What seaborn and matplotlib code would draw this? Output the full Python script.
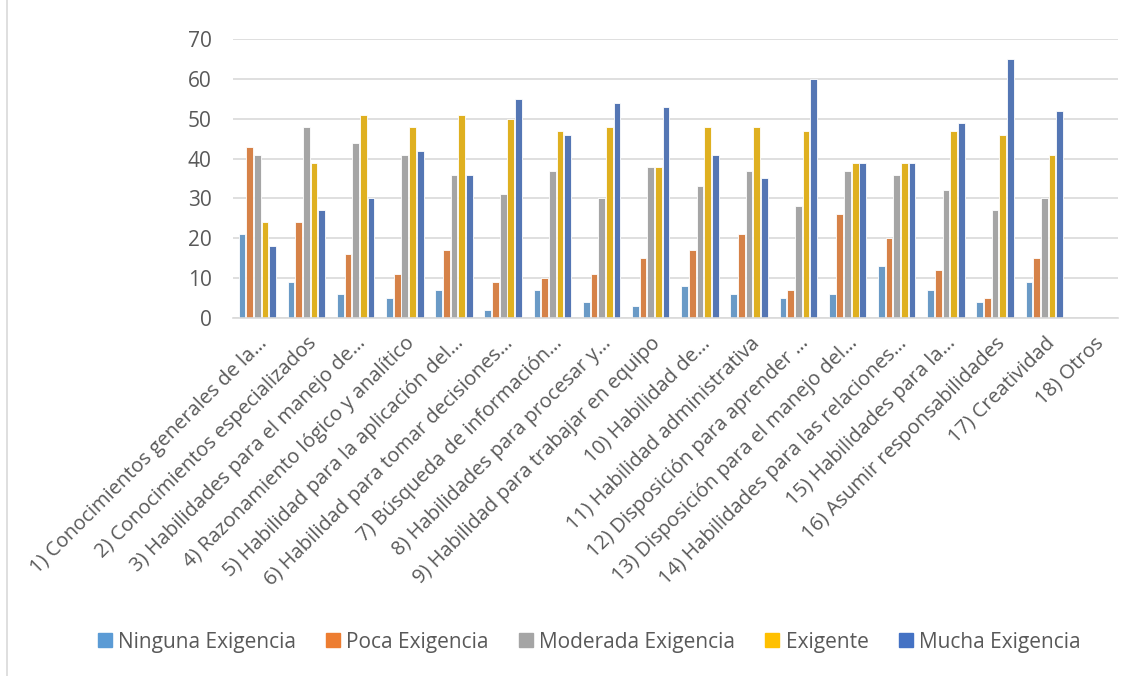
import matplotlib
matplotlib.use("Agg")
from matplotlib import pyplot as plt
from matplotlib.patches import Rectangle
import seaborn as sns
import pandas as pd

categories = [
    "1) Conocimientos generales de la…",
    "2) Conocimientos especializados",
    "3) Habilidades para el manejo de…",
    "4) Razonamiento lógico y analítico",
    "5) Habilidad para la aplicación del…",
    "6) Habilidad para tomar decisiones…",
    "7) Búsqueda de información…",
    "8) Habilidades para procesar y…",
    "9) Habilidad para trabajar en equipo",
    "10) Habilidad de…",
    "11) Habilidad administrativa",
    "12) Disposición para aprender …",
    "13) Disposición para el manejo del…",
    "14) Habilidades para las relaciones…",
    "15) Habilidades para la…",
    "16) Asumir responsabilidades",
    "17) Creatividad",
    "18) Otros",
]
series = ["Ninguna Exigencia", "Poca Exigencia", "Moderada Exigencia", "Exigente", "Mucha Exigencia"]
ninguna = [21, 9, 6, 5, 7, 2, 7, 4, 3, 8, 6, 5, 6, 13, 7, 4, 9, 0]
poca = [43, 24, 16, 11, 17, 9, 10, 11, 15, 17, 21, 7, 26, 20, 12, 5, 15, 0]
moderada = [41, 48, 44, 41, 36, 31, 37, 30, 38, 33, 37, 28, 37, 36, 32, 27, 30, 0]
exigente = [24, 39, 51, 48, 51, 50, 47, 48, 38, 48, 48, 47, 39, 39, 47, 46, 41, 0]
mucha = [18, 27, 30, 42, 36, 55, 46, 54, 53, 41, 35, 60, 39, 39, 49, 65, 52, 0]
colors = ["#5B9BD5", "#ED7D31", "#A5A5A5", "#FFC000", "#4472C4"]

rows = []
for name, vals in zip(series, [ninguna, poca, moderada, exigente, mucha]):
    for cat, v in zip(categories, vals):
        rows.append({"categoria": cat, "nivel": name, "valor": v})
df = pd.DataFrame(rows)

sns.set_style("white")
plt.rcParams["font.family"] = ["Open Sans", "DejaVu Sans"]
text_color = "#595959"

fig = plt.figure(figsize=(11.46, 6.76), dpi=100)
ax = fig.add_axes([0.203, 0.5296, 0.7726, 0.4127])
sns.barplot(data=df, x="categoria", y="valor", hue="nivel", order=categories,
            hue_order=series, palette=colors, width=0.78, gap=0.12,
            edgecolor="white", linewidth=0.6, ax=ax, legend=False)

ax.set_ylim(0, 70)
ax.set_yticks(range(0, 71, 10))
ax.set_xlim(-0.5, len(categories) - 0.5)
ax.yaxis.grid(True, color="#D9D9D9", linewidth=1.2)
ax.set_axisbelow(True)
for s in ["top", "right", "left"]:
    ax.spines[s].set_visible(False)
ax.spines["bottom"].set_color("#D9D9D9")
ax.spines["bottom"].set_linewidth(1.2)
ax.set_xlabel("")
ax.set_ylabel("")
ax.tick_params(axis="both", length=0, colors=text_color)
ax.tick_params(axis="y", pad=15, labelsize=15)
ax.tick_params(axis="x", pad=11)
ax.set_xticks(range(len(categories)))
ax.set_xticklabels(categories, rotation=45, ha="right", va="top",
                   rotation_mode="anchor", fontsize=14.5, color=text_color)

handles = [Rectangle((0, 0), 1, 1, color=c) for c in colors]
fig.legend(handles, series, loc="center", bbox_to_anchor=(0.514, 0.05), ncol=5,
           frameon=False, fontsize=15, handlelength=0.67, handleheight=0.67,
           columnspacing=1.45, handletextpad=0.3, labelcolor=text_color)

fig.patches.append(Rectangle((0.006, -0.01), 1.0, 1.02, transform=fig.transFigure,
                             fill=False, edgecolor="#D9D9D9", linewidth=1.2))

fig.savefig("out.png", dpi=100)
